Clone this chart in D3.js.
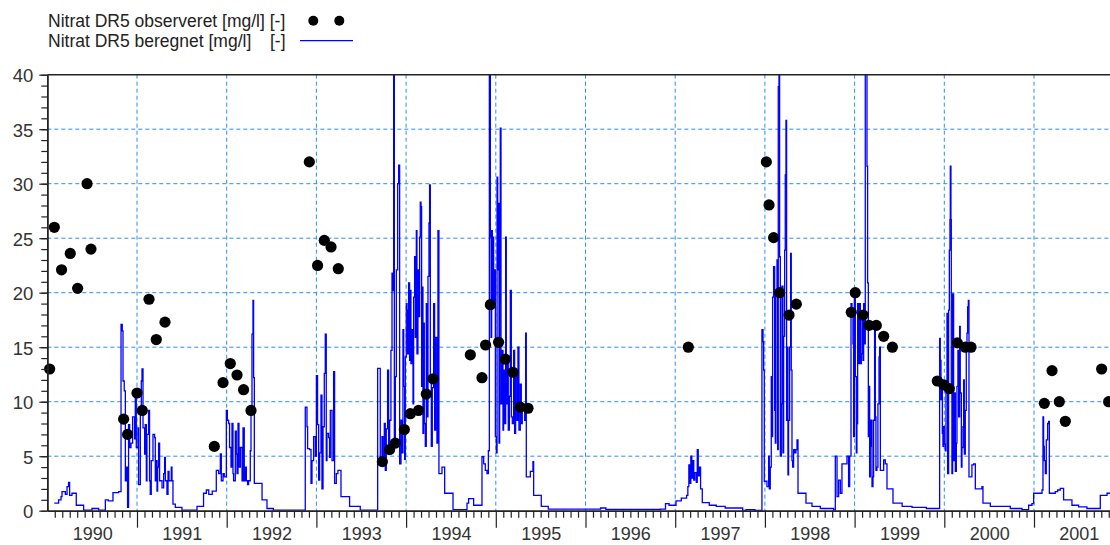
<!DOCTYPE html>
<html>
<head>
<meta charset="utf-8">
<script src="https://cdn.jsdelivr.net/npm/d3@7"></script>
<style>
  body { margin: 0; background: #fff; }
  svg { display: block; }
  text { font-family: "Liberation Sans", Arial, sans-serif; }
</style>
</head>
<body>
<svg id="chart" width="1110" height="545"></svg>
<script>
// ---------------- DATA ----------------
const yearLabels = ["1990","1991","1992","1993","1994","1995","1996","1997","1998","1999","2000","2001"];
const yMajorTicks = [0, 5, 10, 15, 20, 25, 30, 35, 40];
const legendLabels = ["Nitrat DR5 observeret [mg/l] [-]", "Nitrat DR5 beregnet [mg/l]", "[-]"];

// observed samples: time (decimal year) and value (mg/l)
const obsTime = [1990.026,1990.078,1990.159,1990.256,1990.338,1990.443,1990.487,1990.851,1990.895,1991.000,
  1991.059,1991.134,1991.215,1991.312,1991.862,1991.959,1992.040,1992.115,1992.188,1992.271,
  1992.921,1993.013,1993.088,1993.163,1993.244,1993.735,1993.816,1993.880,1993.980,1994.047,
  1994.139,1994.225,1994.300,1994.716,1994.846,1994.886,1994.939,1995.031,1995.106,1995.192,
  1995.273,1995.359,1997.146,1998.016,1998.046,1998.097,1998.164,1998.269,1998.350,1998.963,
  1999.007,1999.094,1999.160,1999.242,1999.324,1999.421,1999.922,1999.994,2000.056,2000.145,
  2000.234,2000.298,2001.115,2001.201,2001.282,2001.349,2001.754,2001.832];
const obsValue = [13.0,26.0,22.1,23.6,20.4,30.0,24.0,8.4,7.0,10.8,
  9.2,19.4,15.7,17.3,5.9,11.75,13.5,12.45,11.1,9.2,
  32.0,22.5,24.8,24.2,22.2,4.5,5.6,6.2,7.45,8.9,
  9.2,10.7,12.1,14.3,12.2,15.2,18.9,15.45,13.9,12.7,
  9.5,9.4,15.0,32.0,28.05,25.05,20.0,17.95,18.95,18.2,
  20.0,17.95,17.0,17.0,16.0,15.0,11.9,11.55,11.2,15.4,
  15.0,15.0,9.85,12.85,10.0,8.2,13.0,10.0];

// simulated series: [decimal year, value], each value holds until the next time
const simulated = [
  [1990.078,0.7],[1990.126,1.0],[1990.153,1.3],[1990.164,1.75],[1990.201,1.5],[1990.220,2.2],[1990.237,2.6],
  [1990.249,1.4],[1990.275,1.6],[1990.323,0.5],[1990.405,0.06],[1990.498,0.2],[1990.572,0.05],[1990.647,1.0],
  [1990.680,0.9],[1990.732,1.65],[1990.795,1.75],
  [1990.822,17.1],[1990.836,16.5],[1990.844,11.9],[1990.858,11.0],[1990.870,2.75],[1990.881,4.0],[1990.895,0.3],
  [1990.906,7.9],[1990.918,5.8],[1990.933,6.2],[1990.951,8.6],[1990.973,6.6],[1990.981,11.0],[1990.992,5.8],
  [1991.011,7.6],[1991.018,2.4],[1991.037,8.9],[1991.048,11.9],[1991.056,13.0],[1991.067,7.6],[1991.085,5.2],
  [1991.092,7.9],[1991.104,2.75],[1991.111,7.0],[1991.129,9.2],[1991.140,2.75],[1991.148,1.5],[1991.159,4.6],
  [1991.178,7.0],[1991.196,6.7],[1991.204,2.75],[1991.215,4.6],[1991.223,1.8],[1991.230,4.0],[1991.241,6.2],
  [1991.252,2.75],[1991.279,2.1],[1991.297,3.4],[1991.308,4.9],[1991.316,2.75],[1991.334,1.5],[1991.346,3.6],
  [1991.357,2.75],[1991.382,4.0],[1991.390,2.75],[1991.401,0.6],[1991.427,0.3],[1991.501,0.05],
  [1991.669,0.4],[1991.742,1.6],[1991.773,1.9],[1991.800,1.5],[1991.839,1.8],[1991.884,3.7],[1991.910,3.4],
  [1991.929,5.2],[1991.940,2.75],[1991.959,3.4],[1991.973,3.1],[1991.996,9.2],[1992.007,8.3],[1992.021,8.0],
  [1992.032,5.8],[1992.048,4.0],[1992.059,8.0],[1992.070,3.4],[1992.077,2.75],[1992.096,7.3],[1992.107,5.2],
  [1992.115,3.4],[1992.126,8.0],[1992.137,4.0],[1992.152,5.8],[1992.171,2.75],[1992.182,7.6],[1992.196,2.75],
  [1992.207,4.0],[1992.219,2.75],[1992.233,2.4],[1992.244,2.75],[1992.263,5.5],[1992.271,8.9],[1992.282,16.2],
  [1992.293,19.3],[1992.300,12.2],[1992.308,2.5],[1992.394,1.0],[1992.449,0.2],[1992.520,0.05],
  [1992.876,9.5],[1992.895,7.7],[1992.902,5.7],[1992.924,5.6],[1992.940,2.5],[1992.951,4.6],[1992.969,6.8],
  [1992.988,5.0],[1993.000,12.4],[1993.013,7.9],[1993.025,2.8],[1993.036,5.3],[1993.051,10.6],[1993.062,2.0],
  [1993.074,7.7],[1993.088,12.6],[1993.099,16.2],[1993.110,4.6],[1993.118,7.1],[1993.136,6.7],[1993.147,4.9],
  [1993.155,9.2],[1993.174,4.6],[1993.192,12.75],[1993.203,2.5],[1993.222,3.4],[1993.240,3.7],[1993.274,1.3],
  [1993.370,0.4],[1993.489,0.05],
  [1993.683,13.05],[1993.712,4.5],[1993.731,6.8],[1993.742,4.4],[1993.757,8.0],[1993.768,3.7],[1993.779,7.5],
  [1993.794,12.9],[1993.805,5.3],[1993.817,8.3],[1993.831,14.7],[1993.843,21.8],[1993.854,20.2],[1993.861,45],
  [1993.869,6.2],[1993.880,12.3],[1993.891,22.1],[1993.906,30.0],[1993.917,31.7],[1993.928,4.3],[1993.943,8.3],
  [1993.954,5.3],[1993.965,16.6],[1993.973,11.4],[1993.984,4.7],[1993.991,14.1],[1994.002,19.0],[1994.010,18.4],
  [1994.017,14.4],[1994.028,20.9],[1994.039,13.8],[1994.047,20.2],[1994.054,13.5],[1994.065,16.6],[1994.077,9.8],
  [1994.084,19.6],[1994.095,23.3],[1994.103,15.9],[1994.114,25.7],[1994.121,14.4],[1994.132,22.1],[1994.140,17.8],
  [1994.151,25.1],[1994.158,28.3],[1994.166,27.9],[1994.173,11.4],[1994.181,20.5],[1994.188,7.1],[1994.196,17.2],
  [1994.203,8.0],[1994.214,5.9],[1994.225,19.0],[1994.233,8.6],[1994.244,21.5],[1994.255,26.4],[1994.262,29.9],
  [1994.270,12.3],[1994.281,5.9],[1994.292,11.3],[1994.307,19.0],[1994.318,7.4],[1994.329,15.9],[1994.344,6.2],
  [1994.355,25.7],[1994.366,3.4],[1994.400,4.0],[1994.430,1.6],[1994.523,0.1],[1994.679,0.7],[1994.697,1.1],
  [1994.753,0.5],
  [1994.846,4.95],[1994.865,4.3],[1994.883,3.7],[1994.902,3.4],[1994.917,5.5],[1994.928,45],[1994.939,25.1],
  [1994.947,15.9],[1994.954,25.7],[1994.962,19.3],[1994.969,25.1],[1994.976,19.0],[1994.984,22.1],[1994.995,6.8],
  [1995.006,5.3],[1995.014,30.6],[1995.021,22.1],[1995.028,28.2],[1995.036,6.2],[1995.043,19.0],[1995.050,35.1],
  [1995.058,9.8],[1995.069,14.7],[1995.080,7.4],[1995.087,12.9],[1995.098,8.0],[1995.110,25.1],[1995.117,9.8],
  [1995.128,14.1],[1995.139,7.4],[1995.151,10.5],[1995.162,20.2],[1995.173,8.6],[1995.184,8.0],[1995.199,14.7],
  [1995.210,7.1],[1995.221,12.9],[1995.236,8.3],[1995.247,15.0],[1995.258,7.4],[1995.273,11.6],[1995.284,8.0],
  [1995.295,9.8],[1995.310,9.2],[1995.322,8.3],[1995.333,16.3],[1995.340,3.1],[1995.385,3.6],[1995.414,4.5],
  [1995.422,1.4],[1995.507,0.4],[1995.585,0.15],[1996.168,0.25],[1996.227,0.12],
  [1996.834,0.15],[1996.892,0.65],[1996.931,0.5],[1997.009,0.9],[1997.068,1.15],[1997.127,1.4],[1997.141,2.2],
  [1997.152,4.2],[1997.163,2.5],[1997.174,5.0],[1997.185,3.0],[1997.196,4.6],[1997.207,2.8],[1997.218,3.5],
  [1997.235,2.6],[1997.246,5.6],[1997.257,3.2],[1997.269,4.0],[1997.283,2.0],[1997.302,0.75],[1997.380,0.5],
  [1997.458,0.4],[1997.557,0.25],[1997.752,0.03],[1997.791,0.1],[1997.889,0.03],
  [1997.967,16.6],[1997.979,15.5],[1997.986,12.9],[1997.993,2.7],[1998.023,2.2],[1998.042,5.0],[1998.049,2.0],
  [1998.060,4.0],[1998.071,12.3],[1998.079,6.8],[1998.086,19.6],[1998.097,22.4],[1998.109,9.2],[1998.116,6.2],
  [1998.123,20.2],[1998.135,23.0],[1998.142,5.6],[1998.149,38.9],[1998.157,45],[1998.164,23.3],[1998.172,5.0],
  [1998.183,9.8],[1998.190,20.6],[1998.201,5.3],[1998.209,16.0],[1998.220,23.9],[1998.227,30.8],[1998.235,35.8],
  [1998.242,8.3],[1998.250,15.0],[1998.257,3.3],[1998.264,8.3],[1998.276,15.0],[1998.287,23.6],[1998.294,12.9],
  [1998.302,4.6],[1998.309,4.0],[1998.320,5.6],[1998.331,5.3],[1998.346,5.6],[1998.358,6.5],[1998.369,1.6],
  [1998.458,0.7],[1998.525,0.4],[1998.618,0.2],[1998.766,0.05],
  [1998.785,5.0],[1998.804,1.3],[1998.822,2.8],[1998.841,1.6],[1998.859,4.3],[1998.915,5.0],[1998.933,2.2],
  [1998.945,5.0],[1998.960,19.0],[1998.971,18.4],[1998.982,15.3],[1998.989,6.8],[1998.997,19.6],[1999.008,12.3],
  [1999.019,5.3],[1999.026,8.0],[1999.034,19.0],[1999.045,13.5],[1999.056,19.0],[1999.064,13.5],[1999.075,14.4],
  [1999.082,18.1],[1999.093,13.8],[1999.101,19.0],[1999.108,15.3],[1999.119,45],[1999.138,31.6],[1999.145,20.9],
  [1999.153,6.8],[1999.160,11.4],[1999.168,3.1],[1999.175,5.9],[1999.182,8.3],[1999.194,2.2],[1999.205,3.1],
  [1999.212,8.3],[1999.223,16.9],[1999.231,8.6],[1999.238,3.7],[1999.249,4.0],[1999.260,9.8],[1999.272,14.1],
  [1999.279,15.0],[1999.287,3.7],[1999.324,4.65],[1999.342,4.3],[1999.361,2.0],[1999.428,0.7],[1999.530,0.4],
  [1999.640,0.3],[1999.800,0.2],
  [1999.948,15.8],[1999.955,13.8],[1999.963,10.2],[1999.970,12.0],[1999.978,7.1],[1999.985,5.9],[1999.993,7.7],
  [2000.000,6.1],[2000.011,5.5],[2000.019,10.8],[2000.030,18.1],[2000.037,3.4],[2000.048,18.4],[2000.056,23.9],
  [2000.063,26.7],[2000.067,31.6],[2000.074,26.7],[2000.078,10.8],[2000.085,3.4],[2000.093,19.9],[2000.104,4.6],
  [2000.111,10.8],[2000.123,3.6],[2000.134,6.2],[2000.141,11.4],[2000.152,14.7],[2000.160,8.6],[2000.171,16.9],
  [2000.178,10.8],[2000.190,4.0],[2000.197,5.8],[2000.208,7.7],[2000.216,12.0],[2000.223,5.2],[2000.234,9.2],
  [2000.245,15.0],[2000.253,16.3],[2000.260,18.7],[2000.268,19.3],[2000.275,3.1],[2000.308,4.2],[2000.327,4.3],
  [2000.346,2.0],[2000.420,2.2],[2000.431,0.7],[2000.513,0.4],[2000.736,0.2],[2000.866,0.1],[2000.940,0.5],
  [2000.977,0.65],[2000.996,1.6],[2001.089,1.9],[2001.100,8.6],[2001.107,5.9],[2001.115,4.6],[2001.126,3.4],
  [2001.137,6.5],[2001.152,8.0],[2001.163,8.2],[2001.171,1.6],[2001.237,1.75],[2001.264,1.9],[2001.293,2.05],
  [2001.330,1.0],[2001.423,0.5],[2001.497,0.35],[2001.590,0.2],[2001.739,1.4],[2001.814,1.6],[2001.950,1.6]
];

// ---------------- CHART ----------------
const W = 1110, H = 545;
const plotLeft = 47.3, plotTop = 74.7, plotBottom = 510.7, yearPx = 89.7;
const svg = d3.select("#chart");

const x = d3.scaleLinear().domain([1990, 2002]).range([plotLeft, plotLeft + 12 * yearPx]);
const y = d3.scaleLinear().domain([0, 40]).range([plotBottom, plotTop]);

const gridColor = "#2a8cff";
const axisColor = "#222";
const textColor = "#333";

svg.append("defs").append("clipPath").attr("id", "plotClip")
  .append("rect").attr("x", plotLeft).attr("y", plotTop).attr("width", W - plotLeft).attr("height", plotBottom - plotTop);

// grid lines
const grid = svg.append("g").attr("stroke", gridColor).attr("stroke-width", 1).attr("stroke-dasharray", "4,3");
grid.selectAll("line.h").data(yMajorTicks.filter(v => v > 0 && v < 40)).join("line").attr("class", "h")
  .attr("x1", plotLeft).attr("x2", W).attr("y1", d => y(d)).attr("y2", d => y(d));
grid.selectAll("line.v").data(d3.range(1991, 2002)).join("line").attr("class", "v")
  .attr("x1", d => x(d)).attr("x2", d => x(d)).attr("y1", plotTop).attr("y2", plotBottom);

// simulated line
const line = d3.line().x(d => x(d[0])).y(d => y(d[1])).curve(d3.curveStepAfter);
svg.append("path").datum(simulated)
  .attr("clip-path", "url(#plotClip)")
  .attr("fill", "none").attr("stroke", "#0000ff").attr("stroke-width", 1.3)
  .attr("d", line);

// observed dots
svg.append("g").selectAll("circle").data(obsTime.map((t, i) => [t, obsValue[i]])).join("circle")
  .attr("cx", d => x(d[0])).attr("cy", d => y(d[1])).attr("r", 5.6).attr("fill", "#000");

// y axis minor + major
svg.append("g").attr("transform", `translate(${plotLeft},0)`)
  .call(d3.axisLeft(y).tickValues(d3.range(0, 41)).tickSize(6).tickSizeOuter(0).tickFormat(""));
const yMajor = svg.append("g").attr("transform", `translate(${plotLeft},0)`)
  .call(d3.axisLeft(y).tickValues(yMajorTicks).tickSize(8).tickSizeOuter(0).tickPadding(6));
yMajor.selectAll("text").attr("font-size", "18.5px").attr("fill", textColor).attr("dy", "0.37em")
  .style("font-family", '"Liberation Sans", Arial, sans-serif');

// x axis: monthly minor ticks, yearly major ticks, labels mid-year
const monthTicks = d3.range(1, 12 * 12 + 2).filter(m => m % 12 !== 0).map(m => 1990 + m / 12);
svg.append("g").attr("transform", `translate(0,${plotBottom})`)
  .call(d3.axisBottom(x).tickValues(monthTicks).tickSize(7).tickSizeOuter(0).tickFormat(""));
svg.append("g").attr("transform", `translate(0,${plotBottom})`)
  .call(d3.axisBottom(x).tickValues(d3.range(1991, 2002)).tickSize(17).tickSizeOuter(0).tickFormat(""));
const xLab = svg.append("g").attr("transform", `translate(0,${plotBottom})`)
  .call(d3.axisBottom(x).tickValues(yearLabels.map(s => +s + 0.5)).tickSize(0).tickSizeOuter(0)
    .tickPadding(16.5).tickFormat((d, i) => yearLabels[i]));
xLab.select(".domain").remove();
xLab.selectAll("text").attr("font-size", "18px").attr("fill", textColor)
  .style("font-family", '"Liberation Sans", Arial, sans-serif');

svg.selectAll(".domain").attr("stroke", axisColor).attr("stroke-width", 1.5);
svg.selectAll(".tick line").attr("stroke", axisColor).attr("stroke-width", 1.2);

// top frame line
svg.append("line").attr("x1", plotLeft).attr("x2", W).attr("y1", plotTop).attr("y2", plotTop)
  .attr("stroke", axisColor).attr("stroke-width", 1.5);

// legend
const lg = svg.append("g").attr("font-size", "17.5px").attr("fill", "#222");
lg.append("text").attr("x", 48).attr("y", 27).text(legendLabels[0]);
lg.append("text").attr("x", 48).attr("y", 46.5).text(legendLabels[1]);
lg.append("text").attr("x", 270).attr("y", 46.5).text(legendLabels[2]);
lg.selectAll("circle").data([313.3, 339.3]).join("circle")
  .attr("cx", d => d).attr("cy", 20.7).attr("r", 5).attr("fill", "#000");
lg.append("line").attr("x1", 300).attr("x2", 353).attr("y1", 40.7).attr("y2", 40.7)
  .attr("stroke", "#0000ff").attr("stroke-width", 1.3);
</script>
</body>
</html>
